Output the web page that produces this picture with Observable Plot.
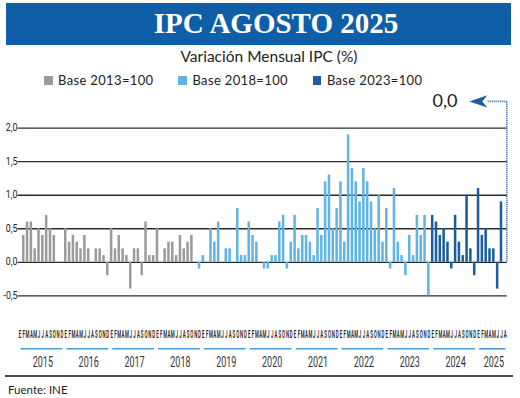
<!DOCTYPE html>
<html><head><meta charset="utf-8">
<script src="https://cdn.jsdelivr.net/npm/d3@7"></script>
<script src="https://cdn.jsdelivr.net/npm/@observablehq/plot@0.6"></script>
<style>
html,body{margin:0;padding:0;background:#fff;}
#wrap{position:relative;width:520px;height:398px;overflow:hidden;font-family:Lato,sans-serif;color:#222;}
#banner{position:absolute;left:6px;top:3px;width:505px;height:42px;background:#0e5ea8;}
#title{position:absolute;left:276px;top:8.7px;transform:translateX(-50%);color:#fff;font:bold 29px "Liberation Serif",serif;line-height:1;white-space:nowrap;}
#subtitle{position:absolute;left:269px;top:49.3px;transform:translateX(-50%);font-size:15.5px;line-height:1;white-space:nowrap;color:#222;}
#legend{position:absolute;left:44px;top:73.5px;display:flex;font-size:13px;line-height:1;letter-spacing:0.35px;white-space:nowrap;}
#legend .item{margin-right:25px;}
#legend .sw{display:inline-block;width:8.5px;height:8.5px;margin-right:5.5px;vertical-align:baseline;}
#chart{position:absolute;left:0;top:88px;}
#sep{position:absolute;left:5px;top:375px;width:508px;height:2.3px;background:#4d4d4d;}
#source{position:absolute;left:8px;top:383.8px;font-size:11.5px;line-height:1;color:#222;}
</style></head>
<body>
<div id="wrap">
  <div id="banner"></div>
  <div id="title">IPC AGOSTO 2025</div>
  <div id="subtitle">Variación Mensual IPC (%)</div>
  <div id="legend"></div>
  <div id="chart"></div>
  <div id="sep"></div>
  <div id="source">Fuente: INE</div>
</div>
<script>
// ---- data ----
const monthLetters = ["E","F","M","A","M","J","J","A","S","O","N","D"];
const years = [2015,2016,2017,2018,2019,2020,2021,2022,2023,2024,2025];
const seriesNames = ["Base 2013=100","Base 2018=100","Base 2023=100"];
const seriesColors = ["#9b9b9b","#5fb4e4","#1b5d9e"];
const yTicks = [-0.5, 0, 0.5, 1, 1.5, 2];
// Base 2013=100 : Jan 2015 - Nov 2018
const base2013 = [
  0.0, 0.4, 0.6, 0.6, 0.2, 0.5, 0.4, 0.7, 0.5, 0.4, 0.0, 0.0,
  0.5, 0.3, 0.4, 0.3, 0.2, 0.4, 0.2, 0.0, 0.2, 0.2, 0.1, -0.2,
  0.5, 0.2, 0.4, 0.2, 0.1, -0.4, 0.2, 0.2, -0.2, 0.6, 0.1, 0.1,
  0.5, 0.0, 0.2, 0.3, 0.3, 0.1, 0.4, 0.2, 0.3, 0.4, 0.0
];
// Base 2018=100 : Dec 2018 - Dec 2023
const base2018 = [
  -0.1,
  0.1, 0.0, 0.5, 0.3, 0.6, 0.0, 0.2, 0.2, 0.0, 0.8, 0.1, 0.1,
  0.6, 0.4, 0.3, 0.0, -0.1, -0.1, 0.1, 0.1, 0.6, 0.7, -0.1, 0.3,
  0.7, 0.2, 0.4, 0.4, 0.3, 0.1, 0.8, 0.4, 1.2, 1.3, 0.5, 0.8,
  1.2, 0.3, 1.9, 1.4, 1.2, 0.9, 1.4, 1.2, 0.9, 0.5, 1.0, 0.3,
  0.8, -0.1, 1.1, 0.3, 0.1, -0.2, 0.4, 0.1, 0.7, 0.4, 0.7, -0.5
];
// Base 2023=100 : Jan 2024 - Aug 2025
const base2023 = [
  0.7, 0.6, 0.4, 0.5, 0.3, -0.1, 0.7, 0.3, 0.1, 1.0, 0.2, -0.2,
  1.1, 0.4, 0.5, 0.2, 0.2, -0.4, 0.9, 0.0
];

// ---- build table ----
const rows = [base2013, base2018, base2023]
  .flatMap((arr, s) => arr.map(v => ({series: seriesNames[s], v})))
  .map((d, i) => ({...d, i, year: years[0] + Math.floor(i / 12), m: i % 12}));
const yearRows = years.map(y => {
  const idx = rows.filter(r => r.year === y).map(r => r.i);
  return {year: y, start: d3.min(idx), end: d3.max(idx)};
});
const fmt = v => v.toFixed(1).replace(".", ",");
const last = rows[rows.length - 1];
const level = 2.4;
const arrowPath = [{x: last.i - 5, y: level}, {x: last.i, y: level}, {x: last.i, y: last.v}];
const arrowHead = {draw(ctx) { ctx.moveTo(-9, 0); ctx.lineTo(9, -6.2); ctx.lineTo(4, 0); ctx.lineTo(9, 6.2); ctx.closePath(); }};

// ---- legend ----
const legend = document.getElementById("legend");
seriesNames.forEach((n, k) => {
  const it = document.createElement("div");
  it.className = "item";
  it.innerHTML = `<span class="sw" style="background:${seriesColors[k]}"></span>${n}`;
  legend.appendChild(it);
});

// ---- chart ----
const svg = Plot.plot({
  width: 520, height: 284,
  marginLeft: 17.49, marginRight: 13.3, marginTop: 39.7, marginBottom: 76.7,
  x: {domain: [-0.5, 127.5], axis: null},
  y: {domain: [-0.5, 2], axis: null},
  color: {domain: seriesNames, range: seriesColors},
  style: {fontFamily: "Roboto", background: "transparent", overflow: "visible"},
  marks: [
    Plot.ruleY(yTicks, {stroke: "#2a2a2a", strokeWidth: 1.3}),
    Plot.rect(rows, {x1: d => d.i - 0.33, x2: d => d.i + 0.33, y1: () => 0, y2: "v", fill: "series"}),
    Plot.text(yTicks, {x: () => -0.5, y: d => d, text: d => fmt(d), textAnchor: "end", dx: -0.5, fontSize: 10.01, fill: "#222"}),
    Plot.text(rows, {x: "i", text: d => monthLetters[d.m], frameAnchor: "bottom", lineAnchor: "middle", dy: 39, fontSize: 11.01, fontWeight: 600, fill: "#222"}),
    Plot.ruleY(yearRows, {y: () => -0.5, x1: d => d.start + 0.3, x2: d => d.end + 0.2, dy: 53, stroke: "#4a9cd6", strokeWidth: 1.6}),
    Plot.text(yearRows, {x: d => (d.start + d.end) / 2 + 0.5, text: d => String(d.year), frameAnchor: "bottom", lineAnchor: "middle", dy: 66, fontSize: 15.01, fill: "#333"}),
    Plot.line(arrowPath, {x: "x", y: "y", stroke: "#1b5d9e", strokeWidth: 1.6, strokeDasharray: "1,1", strokeLinecap: "butt", dx: 1.5}),
    Plot.dot([{x: last.i, y: level}], {x: "x", y: "y", symbol: arrowHead, fill: "#1b5d9e", stroke: "none", dx: -27}),
    Plot.text([last], {x: "i", y: () => level, text: d => fmt(d.v), textAnchor: "end", dx: -47.8, fontSize: 18, fontFamily: "Lato", fill: "#222"})
  ]
});

// condensed look: scale each label horizontally about its own anchor point
function squeeze(size, sx) {
  svg.querySelectorAll(`g[font-size="${size}"] text`).forEach(t => {
    const tr = t.getAttribute("transform");
    if (tr) {
      t.setAttribute("transform", `${tr} scale(${sx},1)`);
    } else {
      const x = parseFloat(t.getAttribute("x")) || 0, y = parseFloat(t.getAttribute("y")) || 0;
      t.removeAttribute("x"); t.removeAttribute("y");
      t.setAttribute("transform", `translate(${x},${y}) scale(${sx},1)`);
    }
  });
}
squeeze("10.01", 0.88);
squeeze("11.01", 0.4);
squeeze("15.01", 0.6);
document.getElementById("chart").appendChild(svg);
</script>
</body></html>
